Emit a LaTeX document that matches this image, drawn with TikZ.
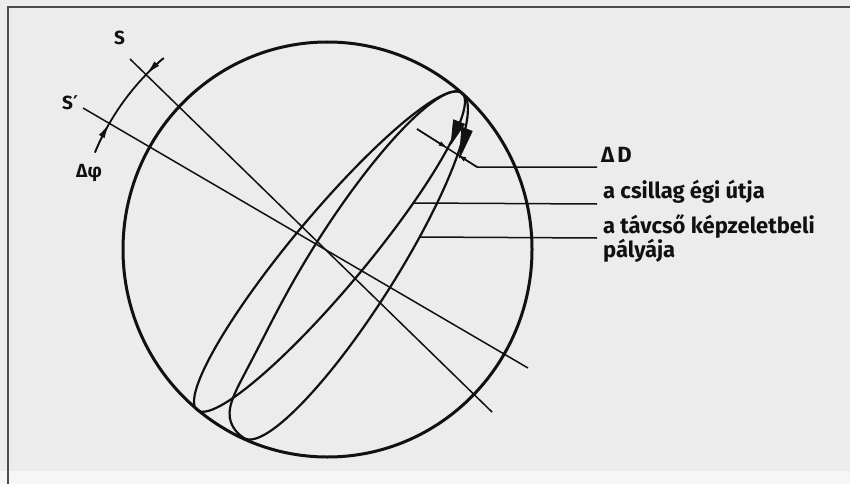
\documentclass[tikz,border=0pt]{standalone}
\usepackage{fontspec}
\setmainfont{Fira Sans}
\newfontfamily\primefont{DejaVu Sans}
\usetikzlibrary{arrows.meta}
\definecolor{paper}{HTML}{ECECEC}
\definecolor{ink}{HTML}{111111}
\begin{document}
\begin{tikzpicture}[x=1pt,y=-1pt,
  declare function={bq(\a)=max(0,-cos(\a));
                    bf(\a)=1+(sin(\a)<0)*bq(\a)*bq(\a)*bq(\a)*bq(\a)*bq(\a)*bq(\a);},
  sky/.style={draw=ink,line width=3pt},
  pathline/.style={draw=ink,line width=2.2pt,line join=round},
  thinline/.style={draw=ink,line width=1.5pt},
  frameline/.style={draw=ink!75,line width=1.3pt},
  lab/.style={font=\bfseries\fontsize{22}{24}\selectfont,text=ink,inner sep=0pt,anchor=base west},
  smalllab/.style={lab,font=\bfseries\fontsize{19}{20}\selectfont},
  phiarrow/.style={thinline,-{Latex[length=15pt,width=6.5pt]}},
  darrow/.style={thinline,-{Latex[length=9pt,width=5pt]}},
  wedge/.style={fill=ink,draw=ink,line width=0.8pt,line join=round}]
\fill[paper] (0,0) rectangle (850,484);
\fill[paper!45] (0,471) rectangle (850,484);
\useasboundingbox (0,0) rectangle (850,484);
% frame
\draw[frameline] (850,7) -- (8,7) -- (8,484);
% sphere
\coordinate (C) at (327.5,249.5);
\draw[sky] (C) ellipse[x radius=204.5, y radius=207.5];
% loop 1: a csillag egi utja
\draw[pathline] plot[smooth cycle, samples=120, domain=0:357, variable=\t]
  ({329.5 + 206.6*cos(\t)*0.6413 + 37*sin(\t)*0.7672},
   {251.5 - 206.6*cos(\t)*0.7672 + 37*sin(\t)*0.6413});
% loop 2: a tavcso kepzeletbeli palyaja
\draw[pathline] plot[smooth cycle, samples=120, domain=0:357, variable=\t]
  ({353 + 204.05*cos(\t)*0.5342 + 43*sin(\t)*bf(\t)*0.8454},
   {265.5 - 204.05*cos(\t)*0.8454 + 43*sin(\t)*bf(\t)*0.5342});
% direction wedges
\fill[wedge] (453.5,119.8) -- (464.5,124.2) -- (451.1,144) -- cycle;
\fill[wedge] (461.8,127.2) -- (472.2,131.3) -- (459.5,158) -- cycle;
% meridian lines S and S'
\coordinate (Sa) at (130,59);
\coordinate (Sb) at (492,412);
\coordinate (Spa) at (83,108);
\coordinate (Spb) at (528,368);
\draw[thinline] (Sa) -- (Sb);
\draw[thinline] (Spa) -- (Spb);
% delta phi arc
\draw[thinline,line width=1.8pt] (C) ++(-157.2:252) arc[start angle=-157.2, end angle=-130.7, radius=252];
\draw[phiarrow] (C) ++(-130.5:252) arc[start angle=-130.5, end angle=-136, radius=252];
\draw[phiarrow] (C) ++(-157.4:252) arc[start angle=-157.4, end angle=-150, radius=252];
% delta D dimension
\coordinate (d0) at (417,129);
\coordinate (d1) at (447.5,148.3);
\coordinate (d2) at (457.4,154.6);
\coordinate (d3) at (477,167);
\coordinate (d4) at (597,167);
\draw[thinline] (d0) -- (d3) -- (d4);
\draw[darrow] (d0) -- (d1);
\draw[darrow] (d3) -- (d2);
% leaders
\coordinate (p1) at (413,203);
\coordinate (e1) at (597,204);
\coordinate (p2) at (419.5,237);
\coordinate (e2) at (597,238);
\draw[thinline] (p1) -- (e1);
\draw[thinline] (p2) -- (e2);
% labels
\node[smalllab] (lS) at (114,45) {S};
\node[smalllab] (lSp) at (62,110) {S{\primefont\bfseries ′}};
\node[smalllab] (ldphi) at (76,177) {Δφ};
\node[lab] (ldD) at (601,162) {Δ\kern3pt D};
\node[lab] (l1) at (603,198) {a csillag égi útja};
\node[lab] (l2) at (603,233) {a távcső képzeletbeli};
\node[lab] (l3) at (603,257) {pályája};
\end{tikzpicture}
\end{document}
